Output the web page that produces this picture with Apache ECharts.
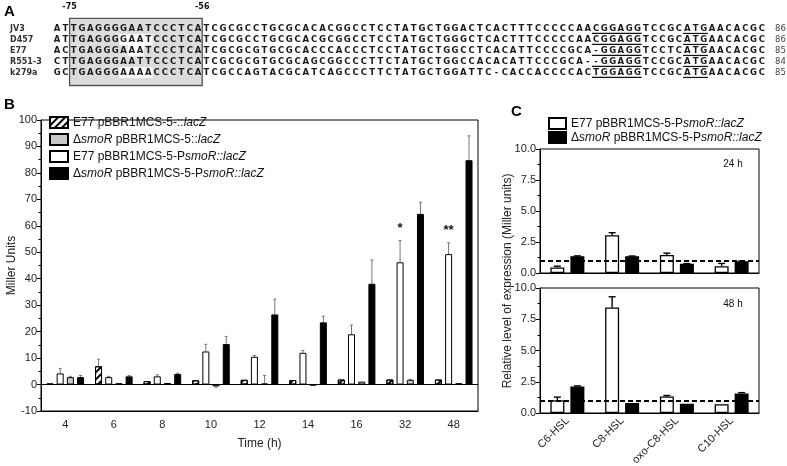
<!DOCTYPE html>
<html><head><meta charset="utf-8">
<script src="https://cdn.jsdelivr.net/npm/echarts@6/dist/echarts.min.js"></script>
<style>html,body{margin:0;padding:0;background:#fff}#c{width:787px;height:466px}</style>
</head><body><div id="c"></div>
<script>
// ---------- Panel A data ----------
const seqNames = ['JV3', 'D457', 'E77', 'R551-3', 'k279a'];
const sequences = [
  'ATTGAGGGGAATCCCTCATCGCGCCTGCGCACACGGCCTCC' + 'TATGCTGGACTCACTTTCCCCCAACGGAGGTCCGCATGAACACGC',
  'ATTGAGGGGAATCCCTCATCGCGCCTGCGCACGCGGCCTCC' + 'TATGCTGGGCTCACTTTCCCCCAACGGAGGTCCGCATGAACACGC',
  'ACTGAGGGAAATCCCTCATCGCGCGTGCGCACCCACCCTCC' + 'TATGCTGGCCTCACATTCCCCGCA-GGAGGTCCTCATGAACACGC',
  'CTTGAGGGAATTCCCTCATCGCGCGTGCGCAGCGGCCCTTC' + 'TATGCTGGCCACACATTCCCGCA--GGAGGTCCGCATGAACACGC',
  'GCTGAGGGAAAACCCTCATCGCCAGTACGCATCAGCCCTTC' + 'TATGCTGGATTC-CACCACCCCACTGGAGGTCCGCATGAACACGC'
];
const seqLengths = ['86', '86', '85', '84', '85'];
const boxCols = [2, 17];               // first / last column inside the grey box
const boxLabels = ['-75', '-56'];
const whiteCols = [[], [8, 9, 10, 11], [9, 10], [], [8, 9, 10, 11]];
const underlineRanges = [[65, 70], [76, 78]];

// ---------- Panel B data ----------
const timeCats = ['4', '6', '8', '10', '12', '14', '16', '32', '48'];
const nameHatch = 'E77 pBBR1MCS-5-::lacZ';
const nameGrey = '\u0394smoR pBBR1MCS-5::lacZ';
const nameWhite = 'E77 pBBR1MCS-5-PsmoR::lacZ';
const nameBlack = '\u0394smoR pBBR1MCS-5-PsmoR::lacZ';
const hatchVals = [0.3, 6.9, 1.3, 1.6, 1.8, 1.7, 1.9, 1.9, 1.9];
const hatchErr  = [0, 2.7, 0, 0, 0, 0, 0, 0, 0];
const whiteVals = [4.2, 2.8, 3.1, 12.5, 10.5, 12.0, 19.0, 46.2, 49.3];
const whiteErr  = [1.9, 0.3, 0.6, 2.7, 0.5, 0.9, 3.5, 8.2, 4.3];
const greyVals  = [2.8, 0.5, 0.6, -0.7, 0.4, -0.4, 1.1, 1.8, 0.5];
const greyErr   = [0.3, 0, 0, 0.3, 3.0, 0, 0, 0.2, 0];
const blackVals = [2.8, 3.1, 4.0, 15.3, 26.5, 23.5, 38.1, 64.5, 84.8];
const blackErr  = [0.6, 0.3, 0.3, 2.9, 5.8, 2.3, 9.0, 4.4, 9.2];
const sigMarks  = [['32', '*'], ['48', '**']];   // on E77 PsmoR::lacZ bars
const yTicksB = {min: -10, max: 100, step: 10};

// ---------- Panel C data ----------
const hslCats = ['C6-HSL', 'C8-HSL', 'oxo-C8-HSL', 'C10-HSL'];
const white24 = [0.45, 3.05, 1.45, 0.55];
const white24Err = [0.1, 0.2, 0.15, 0.22];
const black24 = [1.36, 1.35, 0.74, 0.94];
const black24Err = [0.02, 0.02, 0.02, 0.02];
const white48 = [1.02, 8.45, 1.32, 0.7];
const white48Err = [0.25, 0.85, 0.08, 0];
const black48 = [2.12, 0.8, 0.75, 1.57];
const black48Err = [0.05, 0, 0, 0.06];
const refLevel = 1.0;
const panelTimes = ['24 h', '48 h'];

// ---------- styling ----------
const FONT = '"Liberation Sans", Arial, sans-serif';
const B_BAR = 7, B_GAP = 3.2, B_STEP = B_BAR + B_GAP;
const C_BAR = 14, C_GAP = 6, C_STEP = C_BAR + C_GAP;

const chart = echarts.init(document.getElementById('c'));

const letterData = [];
sequences.forEach((s, r) => { for (let c = 0; c < s.length; c++) letterData.push([c, r, s[c]]); });
const whiteData = [];
whiteCols.forEach((cols, r) => cols.forEach(c => whiteData.push([c, r])));
const ulData = [];
sequences.forEach((s, r) => underlineRanges.forEach(u => ulData.push([u[0], r, u[1]])));

function errData(vals, errs, k) {
  return vals.map((v, i) => [i, k, v, errs[i]]);
}
function makeErrRender(step, n, color, lw, cap) {
  return function (params, api) {
    const c = api.value(0), k = api.value(1), v = api.value(2), e = api.value(3);
    if (!e) return null;
    const b = api.coord([c, v]);
    const t = api.coord([c, v + (v < 0 ? -e : e)]);
    const x = b[0] + (k - (n - 1) / 2) * step;
    return {type: 'group', children: [
      {type: 'line', shape: {x1: x, y1: b[1], x2: x, y2: t[1]}, style: {stroke: color, lineWidth: lw}},
      {type: 'line', shape: {x1: x - cap, y1: t[1], x2: x + cap, y2: t[1]}, style: {stroke: color, lineWidth: lw}}
    ]};
  };
}

const richLegend = {i: {fontStyle: 'italic', fontSize: 12, fontFamily: FONT, color: '#111'}};
function legendFmt(name) {
  const map = {};
  map[nameHatch] = 'E77 pBBR1MCS-5-::{i|lacZ}';
  map[nameGrey] = '\u0394{i|smoR} pBBR1MCS-5::{i|lacZ}';
  map[nameWhite] = 'E77 pBBR1MCS-5-P{i|smoR::lacZ}';
  map[nameBlack] = '\u0394{i|smoR} pBBR1MCS-5-P{i|smoR::lacZ}';
  return map[name] || name;
}

const axisLineBlack = {show: true, onZero: false, lineStyle: {color: '#000', width: 1}};
const tickLabel = {fontSize: 11, color: '#222', fontFamily: FONT};

const option = {
  animation: false,
  backgroundColor: '#fff',
  textStyle: {fontFamily: FONT},
  grid: [
    {left: 53, right: 21, top: 23, height: 55, outerBoundsMode: 'none'},
    {left: 41, right: 309, top: 120, bottom: 55, show: true, borderColor: '#000', borderWidth: 1, outerBoundsMode: 'none'},
    {left: 540, right: 28, top: 149, height: 124, show: true, borderColor: '#000', borderWidth: 1, outerBoundsMode: 'none'},
    {left: 540, right: 28, top: 288, height: 125, show: true, borderColor: '#000', borderWidth: 1, outerBoundsMode: 'none'}
  ],
  xAxis: [
    {type: 'value', gridIndex: 0, min: -0.5, max: 85.5, show: false},
    {type: 'category', gridIndex: 1, data: timeCats, axisLine: axisLineBlack, axisTick: {show: false},
      axisLabel: Object.assign({margin: 8, interval: 0}, tickLabel),
      name: 'Time (h)', nameLocation: 'middle', nameGap: 27, nameMoveOverlap: false,
      nameTextStyle: {fontSize: 12, color: '#222', fontFamily: FONT}},
    {type: 'category', gridIndex: 2, data: hslCats, axisLine: axisLineBlack, axisTick: {show: false}, axisLabel: {show: false}},
    {type: 'category', gridIndex: 3, data: hslCats, axisLine: axisLineBlack, axisTick: {show: false},
      axisLabel: Object.assign({rotate: 45, margin: 6, interval: 0}, tickLabel)}
  ],
  yAxis: [
    {type: 'value', gridIndex: 0, min: -0.5, max: 4.5, inverse: true, show: false},
    {type: 'category', gridIndex: 0, data: seqNames, inverse: true, position: 'left',
      axisLine: {show: false}, axisTick: {show: false},
      axisLabel: {interval: 0, align: 'left', margin: 43, fontSize: 8, fontWeight: 'bold', color: '#333', fontFamily: '"DejaVu Sans", sans-serif'}},
    {type: 'category', gridIndex: 0, data: seqLengths, inverse: true, position: 'right',
      axisLine: {show: false}, axisTick: {show: false},
      axisLabel: {interval: 0, align: 'left', margin: 9, fontSize: 8.5, color: '#444', fontFamily: '"DejaVu Sans", sans-serif'}},
    {type: 'value', gridIndex: 1, min: yTicksB.min, max: yTicksB.max, interval: yTicksB.step,
      axisLine: axisLineBlack, axisTick: {show: true, length: 4, lineStyle: {color: '#000'}},
      minorTick: {show: true, splitNumber: 2, length: 2.5, lineStyle: {color: '#000'}},
      splitLine: {show: false}, axisLabel: Object.assign({margin: 4}, tickLabel),
      name: 'Miller Units', nameLocation: 'middle', nameGap: 23, nameRotate: 90, nameMoveOverlap: false,
      nameTextStyle: {fontSize: 12, color: '#222', fontFamily: FONT}},
    {type: 'value', gridIndex: 2, min: 0, max: 10, interval: 2.5,
      axisLine: axisLineBlack, axisTick: {show: true, length: 4, lineStyle: {color: '#000'}},
      minorTick: {show: true, splitNumber: 2, length: 2.5, lineStyle: {color: '#000'}},
      splitLine: {show: false}, axisLabel: Object.assign({margin: 4, formatter: v => v.toFixed(1)}, tickLabel)},
    {type: 'value', gridIndex: 3, min: 0, max: 10, interval: 2.5,
      axisLine: axisLineBlack, axisTick: {show: true, length: 4, lineStyle: {color: '#000'}},
      minorTick: {show: true, splitNumber: 2, length: 2.5, lineStyle: {color: '#000'}},
      splitLine: {show: false}, axisLabel: Object.assign({margin: 4, formatter: v => v.toFixed(1)}, tickLabel)}
  ],
  legend: [
    {data: [nameHatch, nameGrey, nameWhite, nameBlack], orient: 'vertical', left: 44, top: 111, icon: 'rect',
      itemWidth: 18, itemHeight: 11, itemGap: 4, formatter: legendFmt,
      textStyle: {fontSize: 12, color: '#111', fontFamily: FONT, rich: richLegend}, selectedMode: false},
    {data: [nameWhite, nameBlack], orient: 'vertical', left: 543, top: 112, icon: 'rect',
      itemWidth: 17, itemHeight: 11, itemGap: 1, formatter: legendFmt,
      textStyle: {fontSize: 12, color: '#111', fontFamily: FONT, rich: richLegend}, selectedMode: false}
  ],
  graphic: [
    {type: 'text', x: 4, y: 4, style: {text: 'A', font: 'bold 15px ' + FONT, fill: '#000'}},
    {type: 'text', x: 4, y: 97, style: {text: 'B', font: 'bold 15px ' + FONT, fill: '#000'}},
    {type: 'text', x: 511, y: 104, style: {text: 'C', font: 'bold 15px ' + FONT, fill: '#000'}},
    {type: 'text', x: 733, y: 164, style: {text: panelTimes[0], font: '10px ' + FONT, fill: '#111', align: 'center', verticalAlign: 'middle'}},
    {type: 'text', x: 733, y: 304, style: {text: panelTimes[1], font: '10px ' + FONT, fill: '#111', align: 'center', verticalAlign: 'middle'}},
    {type: 'text', x: 508, y: 281, rotation: Math.PI / 2,
      style: {text: 'Relative level of expression (Miller units)', font: '12px ' + FONT, fill: '#222', align: 'center', verticalAlign: 'middle'}}
  ],
  series: [
    // ----- Panel A -----
    {type: 'custom', name: 'box', xAxisIndex: 0, yAxisIndex: 0, silent: true,
      data: [[boxCols[0], boxCols[1]]],
      renderItem: (p, api) => {
        const a = api.coord([api.value(0) - 0.5, -0.92]);
        const b = api.coord([api.value(1) + 0.5, 5.18]);
        return {type: 'rect', shape: {x: a[0], y: a[1], width: b[0] - a[0], height: b[1] - a[1]},
          style: {fill: '#dcdcdc', stroke: '#555', lineWidth: 1.3}};
      }},
    {type: 'custom', name: 'gaps', xAxisIndex: 0, yAxisIndex: 0, silent: true, data: whiteData,
      renderItem: (p, api) => {
        const a = api.coord([api.value(0) - 0.5, api.value(1) - 0.5]);
        const b = api.coord([api.value(0) + 0.5, api.value(1) + 0.5]);
        return {type: 'rect', shape: {x: a[0], y: a[1], width: b[0] - a[0], height: b[1] - a[1]}, style: {fill: '#fff'}};
      }},
    {type: 'custom', name: 'letters', xAxisIndex: 0, yAxisIndex: 0, silent: true, data: letterData,
      encode: {x: 0, y: 1},
      renderItem: (p, api) => {
        const d = letterData[p.dataIndex];
        const pt = api.coord([d[0], d[1]]);
        return {type: 'text', x: pt[0], y: pt[1],
          style: {text: d[2], fill: '#1a1a1a', font: 'bold 8.5px "DejaVu Sans", sans-serif', align: 'center', verticalAlign: 'middle'}};
      }},
    {type: 'custom', name: 'underline', xAxisIndex: 0, yAxisIndex: 0, silent: true, data: ulData,
      renderItem: (p, api) => {
        const a = api.coord([api.value(0) - 0.5, api.value(1) + 0.45]);
        const b = api.coord([api.value(2) + 0.5, api.value(1) + 0.45]);
        return {type: 'line', shape: {x1: a[0], y1: a[1], x2: b[0], y2: b[1]}, style: {stroke: '#111', lineWidth: 1.2}};
      }},
    {type: 'custom', name: 'positions', xAxisIndex: 0, yAxisIndex: 0, silent: true,
      data: boxCols.map((c, i) => [c + (i === 0 ? -0.5 : 0.5), -1.95]),
      renderItem: (p, api) => {
        const pt = api.coord([api.value(0), api.value(1)]);
        return {type: 'text', x: pt[0], y: pt[1],
          style: {text: boxLabels[p.dataIndex], fill: '#111', font: 'bold 8px "DejaVu Sans", sans-serif', align: 'center', verticalAlign: 'middle'}};
      }},
    // ----- Panel B -----
    {type: 'bar', name: nameHatch, xAxisIndex: 1, yAxisIndex: 3, data: hatchVals, barWidth: B_BAR, barGap: (B_GAP / B_BAR * 100) + '%',
      itemStyle: {color: '#fff', borderColor: '#000', borderWidth: 1,
        decal: {symbol: 'rect', symbolSize: 1, dashArrayX: [1, 0], dashArrayY: [1.2, 2.6], rotation: -Math.PI / 4, color: '#000'}},
      markLine: {silent: true, symbol: ['none', 'none'], label: {show: false}, lineStyle: {color: '#000', width: 1, type: 'solid'},
        data: [{yAxis: 0}]}},
    {type: 'bar', name: nameWhite, xAxisIndex: 1, yAxisIndex: 3, data: whiteVals, barWidth: B_BAR, barGap: (B_GAP / B_BAR * 100) + '%',
      itemStyle: {color: '#fff', borderColor: '#000', borderWidth: 1}},
    {type: 'bar', name: nameGrey, xAxisIndex: 1, yAxisIndex: 3, data: greyVals, barWidth: B_BAR, barGap: (B_GAP / B_BAR * 100) + '%',
      itemStyle: {color: '#c8c8c8', borderColor: '#000', borderWidth: 1}},
    {type: 'bar', name: nameBlack, xAxisIndex: 1, yAxisIndex: 3, data: blackVals, barWidth: B_BAR, barGap: (B_GAP / B_BAR * 100) + '%',
      itemStyle: {color: '#000', borderColor: '#000', borderWidth: 1}},
    {type: 'custom', name: 'errB', xAxisIndex: 1, yAxisIndex: 3, silent: true, encode: {x: 0, y: 2},
      data: [].concat(errData(hatchVals, hatchErr, 0), errData(whiteVals, whiteErr, 1), errData(greyVals, greyErr, 2), errData(blackVals, blackErr, 3)),
      renderItem: makeErrRender(B_STEP, 4, '#777', 1, 1.5)},
    {type: 'custom', name: 'sig', xAxisIndex: 1, yAxisIndex: 3, silent: true, encode: {x: 0, y: 1},
      data: sigMarks.map(s => { const i = timeCats.indexOf(s[0]); return [i, whiteVals[i] + whiteErr[i]]; }),
      renderItem: (p, api) => {
        const pt = api.coord([api.value(0), api.value(1)]);
        return {type: 'text', x: pt[0] - 0.5 * B_STEP, y: pt[1] - 6,
          style: {text: sigMarks[p.dataIndex][1], fill: '#111', font: 'bold 13px ' + FONT, align: 'center', verticalAlign: 'bottom'}};
      }},
    // ----- Panel C -----
    {type: 'bar', name: nameWhite, xAxisIndex: 2, yAxisIndex: 4, data: white24, barWidth: C_BAR, barGap: (C_GAP / C_BAR * 100) + '%',
      itemStyle: {color: '#fff', borderColor: '#000', borderWidth: 1.3}},
    {type: 'bar', name: nameBlack, xAxisIndex: 2, yAxisIndex: 4, data: black24, barWidth: C_BAR, barGap: (C_GAP / C_BAR * 100) + '%',
      itemStyle: {color: '#000', borderColor: '#000', borderWidth: 1.3},
      markLine: {silent: true, symbol: ['none', 'none'], label: {show: false}, lineStyle: {color: '#000', width: 2, type: [5, 3]},
        data: [{yAxis: refLevel}]}},
    {type: 'custom', name: 'errC24', xAxisIndex: 2, yAxisIndex: 4, silent: true, encode: {x: 0, y: 2},
      data: [].concat(errData(white24, white24Err, 0), errData(black24, black24Err, 1)),
      renderItem: makeErrRender(C_STEP, 2, '#000', 1.4, 3.5)},
    {type: 'bar', name: nameWhite, xAxisIndex: 3, yAxisIndex: 5, data: white48, barWidth: C_BAR, barGap: (C_GAP / C_BAR * 100) + '%',
      itemStyle: {color: '#fff', borderColor: '#000', borderWidth: 1.3}},
    {type: 'bar', name: nameBlack, xAxisIndex: 3, yAxisIndex: 5, data: black48, barWidth: C_BAR, barGap: (C_GAP / C_BAR * 100) + '%',
      itemStyle: {color: '#000', borderColor: '#000', borderWidth: 1.3},
      markLine: {silent: true, symbol: ['none', 'none'], label: {show: false}, lineStyle: {color: '#000', width: 2, type: [5, 3]},
        data: [{yAxis: refLevel}]}},
    {type: 'custom', name: 'errC48', xAxisIndex: 3, yAxisIndex: 5, silent: true, encode: {x: 0, y: 2},
      data: [].concat(errData(white48, white48Err, 0), errData(black48, black48Err, 1)),
      renderItem: makeErrRender(C_STEP, 2, '#000', 1.4, 3.5)}
  ]
};
chart.setOption(option);
</script>
</body></html>
